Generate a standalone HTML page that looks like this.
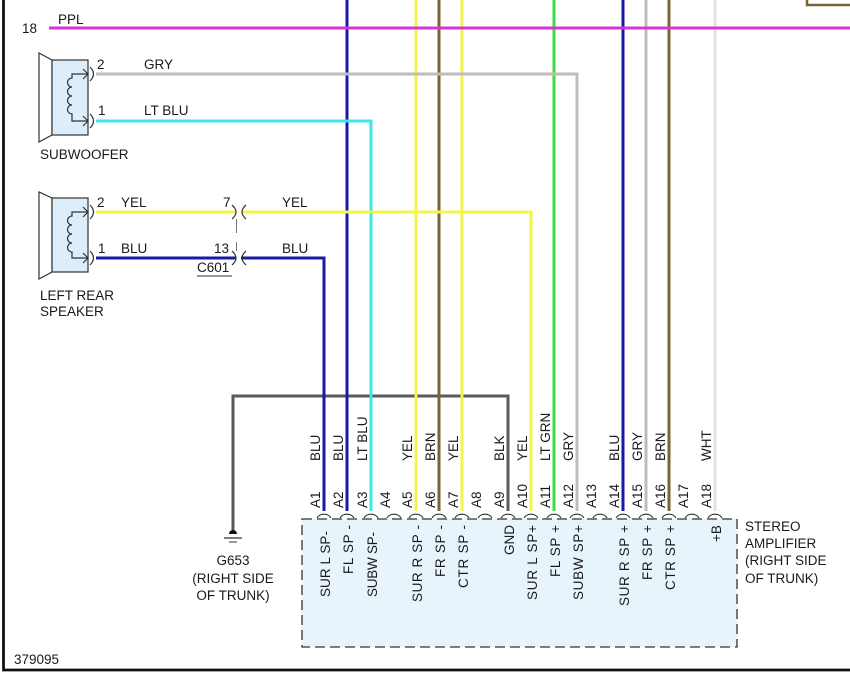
<!DOCTYPE html>
<html><head><meta charset="utf-8"><style>
html,body{margin:0;padding:0;background:#fff;}
svg{display:block;}
text{font-family:"Liberation Sans",Arial,sans-serif;font-size:13.5px;fill:#1a1a1a;}
</style></head><body>
<svg width="850" height="698" viewBox="0 0 850 698" xmlns="http://www.w3.org/2000/svg">
<rect width="850" height="698" fill="#fff"/>

<!-- frame -->
<path d="M3.5 0 V670 H850" fill="none" stroke="#111" stroke-width="2.8"/>
<path d="M807 0 V5 H850" fill="none" stroke="#7a6432" stroke-width="2.5"/>

<!-- amplifier box -->
<rect x="302" y="519" width="435" height="128" fill="#e8f4fc" stroke="#333" stroke-width="1.3" stroke-dasharray="10 5"/>

<!-- ground wire (behind verticals) -->
<path d="M233 531 V396 H508 V511" fill="none" stroke="#5a5a5a" stroke-width="3"/>

<!-- vertical wires from top -->
<g fill="none" stroke-width="3">
<line x1="347" y1="0" x2="347" y2="511" stroke="#1a1aa0"/>
<line x1="416" y1="0" x2="416" y2="511" stroke="#f4f44a"/>
<line x1="439" y1="0" x2="439" y2="511" stroke="#7a6432"/>
<line x1="462" y1="0" x2="462" y2="511" stroke="#f4f44a"/>
<line x1="554" y1="0" x2="554" y2="511" stroke="#3fdc3f"/>
<line x1="623" y1="0" x2="623" y2="511" stroke="#1a1aa0"/>
<line x1="646" y1="0" x2="646" y2="511" stroke="#bdbdbd"/>
<line x1="669" y1="0" x2="669" y2="511" stroke="#7a6432"/>
<line x1="715" y1="0" x2="715" y2="511" stroke="#e2e2e2"/>
</g>

<!-- horizontal wires with corners -->
<g fill="none" stroke-width="3">
<path d="M96 74 H577 V511" stroke="#bdbdbd"/>
<path d="M96 121 H371 V511" stroke="#3ee6ea"/>
<path d="M96 212 H236" stroke="#f4f44a"/>
<path d="M241 212 H531 V511" stroke="#f4f44a"/>
<path d="M96 258 H236" stroke="#1a1aa0"/>
<path d="M241 258 H324 V511" stroke="#1a1aa0"/>
<path d="M49 28 H850" stroke="#d535d5"/>
</g>

<!-- speakers -->
<g stroke="#333" stroke-width="1.2">
<polygon points="52,60 39,53 39,142 52,135" fill="#fff"/>
<rect x="52" y="60" width="36" height="75" fill="#ddeefa"/>
<polygon points="52,198 39,192 39,279 52,272" fill="#fff"/>
<rect x="52" y="198" width="36" height="74" fill="#ddeefa"/>
</g>
<g fill="none" stroke="#333" stroke-width="1.2">
<path d="M88 74 H72 V78 A4.5 4.5 0 0 0 72 87 A4.5 4.5 0 0 0 72 96 A4.5 4.5 0 0 0 72 105 A4.5 4.5 0 0 0 72 114 V121 H88"/>
<path d="M83 69 L88 74 L83 79 M83 116 L88 121 L83 126"/>
<path d="M90 67 Q97 74 90 81 M90 114 Q97 121 90 128"/>
<path d="M88 212 H72 V216 A4.5 4.5 0 0 0 72 225 A4.5 4.5 0 0 0 72 234 A4.5 4.5 0 0 0 72 243 A4.5 4.5 0 0 0 72 252 V258 H88"/>
<path d="M83 207 L88 212 L83 217 M83 253 L88 258 L83 263"/>
<path d="M90 205 Q97 212 90 219 M90 251 Q97 258 90 265"/>
<!-- C601 -->
<path d="M232 205 Q240 212 232 219 M246 205 Q238 212 246 219"/>
<path d="M232 251 Q240 258 232 265 M246 251 Q238 258 246 265"/>
</g>
<path d="M236.5 219 V233 M236.5 242 V251" stroke="#777" stroke-width="1"/>
<line x1="197" y1="276" x2="232" y2="276" stroke="#333" stroke-width="1"/>

<!-- pin arcs -->
<g fill="none" stroke="#333" stroke-width="1.1">
<path d="M317 518 A7.5 6 0 0 1 331 518"/>
<path d="M340 518 A7.5 6 0 0 1 354 518"/>
<path d="M364 518 A7.5 6 0 0 1 378 518"/>
<path d="M387 518 A7.5 6 0 0 1 401 518"/>
<path d="M409 518 A7.5 6 0 0 1 423 518"/>
<path d="M432 518 A7.5 6 0 0 1 446 518"/>
<path d="M455 518 A7.5 6 0 0 1 469 518"/>
<path d="M478 518 A7.5 6 0 0 1 492 518"/>
<path d="M501 518 A7.5 6 0 0 1 515 518"/>
<path d="M524 518 A7.5 6 0 0 1 538 518"/>
<path d="M547 518 A7.5 6 0 0 1 561 518"/>
<path d="M570 518 A7.5 6 0 0 1 584 518"/>
<path d="M593 518 A7.5 6 0 0 1 607 518"/>
<path d="M616 518 A7.5 6 0 0 1 630 518"/>
<path d="M639 518 A7.5 6 0 0 1 653 518"/>
<path d="M662 518 A7.5 6 0 0 1 676 518"/>
<path d="M685 518 A7.5 6 0 0 1 699 518"/>
<path d="M708 518 A7.5 6 0 0 1 722 518"/>
</g>

<!-- ground symbol -->
<path d="M229 534 A4 4 0 0 1 237 534 Z" fill="#111"/>
<line x1="224" y1="538" x2="242" y2="538" stroke="#333" stroke-width="1.2"/>
<line x1="229" y1="542" x2="237" y2="542" stroke="#333" stroke-width="1"/>

<!-- horizontal text -->
<text x="22" y="33">18</text>
<text x="58" y="24">PPL</text>
<text x="97" y="69">2</text>
<text x="144" y="69">GRY</text>
<text x="98" y="115">1</text>
<text x="144" y="115">LT BLU</text>
<text x="40" y="159">SUBWOOFER</text>
<text x="97" y="207">2</text>
<text x="121" y="207">YEL</text>
<text x="223" y="207">7</text>
<text x="282" y="207">YEL</text>
<text x="98" y="253">1</text>
<text x="121" y="253">BLU</text>
<text x="214" y="253">13</text>
<text x="282" y="253">BLU</text>
<text x="197" y="272">C601</text>
<text x="40" y="300">LEFT REAR</text>
<text x="40" y="316">SPEAKER</text>
<text x="233" y="565" text-anchor="middle">G653</text>
<text x="233" y="583" text-anchor="middle">(RIGHT SIDE</text>
<text x="233" y="600" text-anchor="middle">OF TRUNK)</text>
<text x="745" y="531">STEREO</text>
<text x="745" y="548">AMPLIFIER</text>
<text x="745" y="565">(RIGHT SIDE</text>
<text x="745" y="583">OF TRUNK)</text>
<text x="14" y="664">379095</text>

<!-- pin labels -->
<g>
<text transform="translate(320,508) rotate(-90)">A1</text>
<text transform="translate(343,508) rotate(-90)">A2</text>
<text transform="translate(367,508) rotate(-90)">A3</text>
<text transform="translate(390,508) rotate(-90)">A4</text>
<text transform="translate(412,508) rotate(-90)">A5</text>
<text transform="translate(435,508) rotate(-90)">A6</text>
<text transform="translate(458,508) rotate(-90)">A7</text>
<text transform="translate(481,508) rotate(-90)">A8</text>
<text transform="translate(504,508) rotate(-90)">A9</text>
<text transform="translate(527,508) rotate(-90)">A10</text>
<text transform="translate(550,508) rotate(-90)">A11</text>
<text transform="translate(573,508) rotate(-90)">A12</text>
<text transform="translate(596,508) rotate(-90)">A13</text>
<text transform="translate(619,508) rotate(-90)">A14</text>
<text transform="translate(642,508) rotate(-90)">A15</text>
<text transform="translate(665,508) rotate(-90)">A16</text>
<text transform="translate(688,508) rotate(-90)">A17</text>
<text transform="translate(711,508) rotate(-90)">A18</text>
</g>

<!-- wire color labels -->
<g>
<text transform="translate(320,461) rotate(-90)">BLU</text>
<text transform="translate(343,461) rotate(-90)">BLU</text>
<text transform="translate(367,461) rotate(-90)">LT BLU</text>
<text transform="translate(412,461) rotate(-90)">YEL</text>
<text transform="translate(435,461) rotate(-90)">BRN</text>
<text transform="translate(458,461) rotate(-90)">YEL</text>
<text transform="translate(504,461) rotate(-90)">BLK</text>
<text transform="translate(527,461) rotate(-90)">YEL</text>
<text transform="translate(550,461) rotate(-90)">LT GRN</text>
<text transform="translate(573,461) rotate(-90)">GRY</text>
<text transform="translate(619,461) rotate(-90)">BLU</text>
<text transform="translate(642,461) rotate(-90)">GRY</text>
<text transform="translate(665,461) rotate(-90)">BRN</text>
<text transform="translate(711,461) rotate(-90)">WHT</text>
</g>

<!-- inside box labels -->
<g>
<text transform="translate(330,597) rotate(-90)" textLength="66" lengthAdjust="spacing">SUR L SP-</text>
<text transform="translate(353,574) rotate(-90)" textLength="49" lengthAdjust="spacing">FL SP -</text>
<text transform="translate(377,597) rotate(-90)" textLength="65" lengthAdjust="spacing">SUBW SP-</text>
<text transform="translate(422,602) rotate(-90)" textLength="77" lengthAdjust="spacing">SUR R SP -</text>
<text transform="translate(445,577) rotate(-90)" textLength="52" lengthAdjust="spacing">FR SP -</text>
<text transform="translate(468,588) rotate(-90)" textLength="63" lengthAdjust="spacing">CTR SP -</text>
<text transform="translate(514,555) rotate(-90)">GND</text>
<text transform="translate(537,600) rotate(-90)" textLength="75" lengthAdjust="spacing">SUR L SP+</text>
<text transform="translate(560,577) rotate(-90)" textLength="52" lengthAdjust="spacing">FL SP +</text>
<text transform="translate(583,600) rotate(-90)" textLength="75" lengthAdjust="spacing">SUBW SP+</text>
<text transform="translate(629,606) rotate(-90)" textLength="81" lengthAdjust="spacing">SUR R SP +</text>
<text transform="translate(652,580) rotate(-90)" textLength="55" lengthAdjust="spacing">FR SP +</text>
<text transform="translate(675,590) rotate(-90)" textLength="65" lengthAdjust="spacing">CTR SP +</text>
<text transform="translate(721,542) rotate(-90)">+B</text>
</g>
</svg>
</body></html>
